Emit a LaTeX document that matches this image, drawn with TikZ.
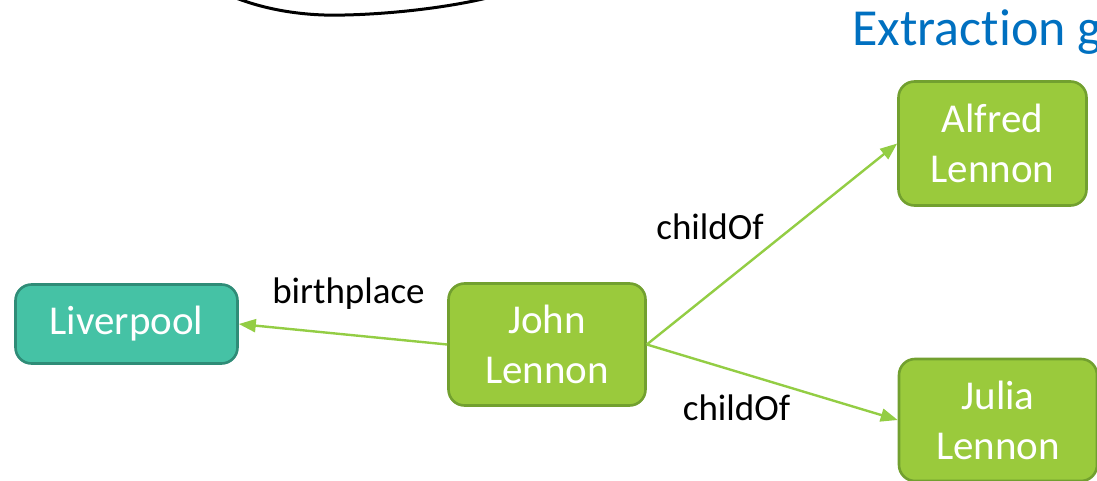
\documentclass[tikz,border=0pt]{standalone}
\usepackage{fontspec}
\setmainfont{Carlito}[Ligatures=NoCommon]
\usetikzlibrary{arrows.meta}
\definecolor{leafgreen}{HTML}{9ACA3C}
\definecolor{leafedge}{HTML}{72A02F}
\definecolor{tealfill}{HTML}{45C2A5}
\definecolor{tealedge}{HTML}{2F8C77}
\definecolor{linkgreen}{HTML}{93CD44}
\definecolor{titleblue}{HTML}{0070C0}
\tikzset{
  entity/.style={draw=leafedge, fill=leafgreen, line width=2.6pt, rounded corners=16pt,
    text=white, align=center, inner sep=0pt, font=\fontsize{41}{50}\selectfont},
  place/.style={entity, draw=tealedge, fill=tealfill},
  relation/.style={draw=linkgreen, line width=2.4pt, -{Triangle[length=17pt,width=13pt]}},
  rellabel/.style={font=\fontsize{37}{44}\selectfont, text=black, inner sep=0pt, anchor=base},
}
\begin{document}
\begin{tikzpicture}[x=1pt,y=-1pt]
  \useasboundingbox (0,0) rectangle (1097,481);
  % curve entering from the top
  \draw[line width=3pt, black] (236,-2) .. controls (275,13) and (315,16) .. (345,15)
        .. controls (390,14) and (445,8) .. (487,-2);
  % heading (kern keeps t and i as separate glyphs)
  \node[anchor=base west, text=titleblue, inner sep=0pt, font=\fontsize{52}{60}\selectfont]
    (title) at (852,46) {Extrac\kern0pt tion g};
  % entities
  \node[place, minimum width=222pt, minimum height=79pt] (liverpool) at (126.5,324) {Liverpool};
  \node[entity, minimum width=197pt, minimum height=122pt] (john) at (547,344.5) {John\\Lennon};
  \node[entity, minimum width=188pt, minimum height=124pt] (alfred) at (992.5,143.5) {Alfred\\Lennon};
  \node[entity, minimum width=198pt, minimum height=122pt] (julia) at (998,420) {Julia\\Lennon};
  % relations
  \draw[relation] (john.west) -- (liverpool.east);
  \draw[relation] (john.east) -- (alfred.west);
  \draw[relation] (john.east) -- (julia.west);
  % relation labels
  \node[rellabel] (lbirth) at (348.5,303) {birthplace};
  \node[rellabel] (lchildA) at (710,239) {childOf};
  \node[rellabel] (lchildB) at (736.5,420) {childOf};
\end{tikzpicture}
\end{document}
